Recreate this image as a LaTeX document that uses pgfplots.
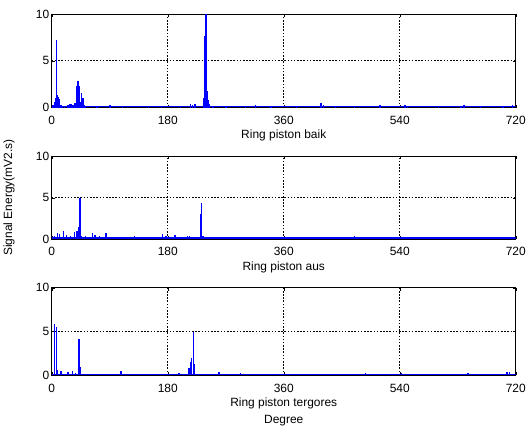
\documentclass[border=0pt]{standalone}
\usepackage{pgfplots}
\pgfplotsset{compat=1.18}
\usepackage{fontspec}
\setmainfont{Liberation Sans}

\pgfplotsset{
  ringax/.style={
    scale only axis,
    width=466pt,
    xmin=0, xmax=720, ymin=0, ymax=10,
    xtick={0,180,360,540,720},
    ytick={0,5,10},
    grid=major,
    major grid style={black, dash pattern=on 1.6pt off 1.6pt, line width=0.6pt},
    axis line style={black, line width=0.8pt},
    tick align=inside,
    major tick length=3pt,
    tick style={black},
    ticklabel style={font=\fontsize{12}{14}\selectfont},
    label style={font=\fontsize{12}{17}\selectfont},
    xticklabel style={yshift=-5pt},
    yticklabel style={xshift=1pt},
    xlabel shift=-1pt,
    /pgf/number format/assume math mode=true,
  },
  spikes/.style={blue, ycomb, line width=1.5pt},
  base/.style={blue, line width=1.8pt},
}

\begin{document}
\begin{tikzpicture}
\path (0,0) rectangle (529pt,434pt);

% Ring piston baik
\begin{axis}[ringax, height=94pt, anchor=south west, at={(52pt,326pt)},
  xlabel={Ring piston baik}]
\addplot[base] coordinates {(0,0.1) (720,0.1)};
\addplot[spikes] coordinates {
  (2,0.3) (4,0.6) (6,1.0) (7,7.2) (8,1.2) (9,1.3) (10,1.1) (11,0.9) (12,0.5)
  (14,0.3) (16,0.2) (20,0.2) (25,0.3) (28,0.4) (30,0.4) (33,0.3) (36,0.5)
  (38,0.8) (39,2.3) (40,2.4) (41,2.8) (42,2.3) (43,1.5) (44,0.6) (46,1.5)
  (47,1.0) (48,1.0) (49,1.0) (50,0.3) (52,0.2) (70,0.15) (90,0.25) (110,0.15)
  (150,0.2) (170,0.15) (200,0.2) (215,0.4) (218,0.3) (222,0.4) (236,1.0)
  (237,4.0) (238,7.6) (239,10) (240,7.6) (241,1.8) (242,1.6) (243,0.8)
  (245,0.4) (250,0.2) (270,0.2) (301,0.2) (316,0.3) (340,0.2) (380,0.2)
  (418,0.5) (422,0.3) (440,0.2) (470,0.2) (509,0.3) (548,0.3) (552,0.2)
  (600,0.2) (635,0.2) (640,0.3) (665,0.2) (700,0.2) (715,0.3)
};
\end{axis}

% Ring piston aus
\begin{axis}[ringax, height=83pt, anchor=south west, at={(52pt,194pt)},
  xlabel={Ring piston aus},
  ylabel={Signal Energy(mV2.s)},
  ylabel style={at={(axis description cs:-0.092,0.5)}, anchor=center}]
\addplot[base] coordinates {(0,0.1) (720,0.1)};
\addplot[spikes] coordinates {
  (4.6,0.3) (8.8,0.7) (12,0.6) (18.5,1.0) (23,0.5) (29,0.3) (35.5,0.8)
  (39,1.0) (41.7,1.5) (44,5.0) (46,0.3) (52.5,0.3) (63,0.7) (67,0.5)
  (74,0.3) (84.5,0.7) (113,0.2) (128,0.3) (150,0.2) (172,0.6) (177,0.4)
  (191.6,0.5) (210.6,0.4) (214,0.3) (230.7,3.0) (232,4.3) (234.6,0.4)
  (270,0.2) (300,0.2) (340,0.2) (386,0.25) (420,0.2) (470,0.3) (500,0.2)
  (560,0.2) (600,0.2) (630,0.2) (660,0.2) (690,0.2) (710,0.2)
};
\end{axis}

% Ring piston tergores
\begin{axis}[ringax, height=88pt, anchor=south west, at={(52pt,57pt)},
  xlabel={Ring piston tergores\\Degree},
  xlabel style={align=center}]
\addplot[base] coordinates {(0,0.1) (720,0.1)};
\addplot[spikes] coordinates {
  (4.6,5.9) (7.3,5.5) (8.8,0.6) (14.7,0.5) (25,0.4) (32,0.5) (37,0.3)
  (42,4.2) (43.5,1.0) (51.5,0.2) (88,0.2) (107.7,0.5) (197.8,0.3) (213,0.8)
  (215.6,1.5) (217,2.0) (219.6,5.0) (221.6,1.3) (239,0.2) (259.6,0.4)
  (293,0.3) (487,0.3) (494,0.2) (543,0.3) (646,0.3) (650,0.2)
  (706.6,0.4) (710.7,0.4) (715,0.2)
};
\end{axis}
\end{tikzpicture}
\end{document}
